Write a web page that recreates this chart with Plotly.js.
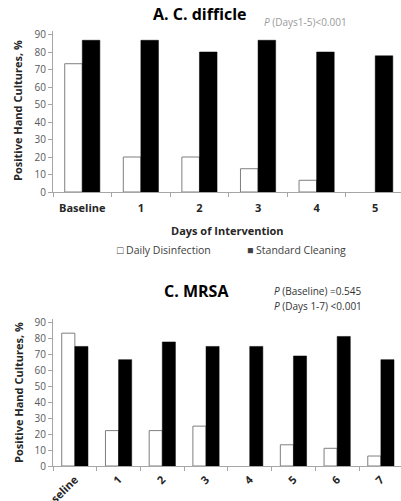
<!DOCTYPE html>
<html><head><meta charset="utf-8">
<script src="https://cdn.plot.ly/plotly-3.0.1.min.js"></script>
<style>body{margin:0;padding:0;background:#fff}#c{width:401px;height:501px}</style>
</head><body><div id="c"></div>
<script>
// Panel A: C. difficile
const catsA = ["Baseline","1","2","3","4","5"];
const dailyA = [73.3, 20, 20, 13.3, 6.7, 0];
const standardA = [86.7, 86.7, 80, 86.7, 80, 77.8];
// Panel C: MRSA
const catsC = ["Baseline","1","2","3","4","5","6","7"];
const dailyC = [83.3, 22.2, 22.2, 25, 0, 13.3, 11.1, 6.25];
const standardC = [75, 66.7, 77.8, 75, 75, 69, 81.25, 66.7];
const yTicks = [0,10,20,30,40,50,60,70,80,90];
const seriesNames = ["Daily Disinfection", "Standard Cleaning"];

const F = "Open Sans, Liberation Sans, sans-serif";
const whiteBar = vals => ({color:"#ffffff", line:{color:"#7f7f7f", width:vals.map(v => v > 0 ? 1 : 0)}});
const blackBar = {color:"#000000", line:{color:"#000000", width:0.5}};

const traces = [
  {type:"bar", name:seriesNames[0], x:catsA, y:dailyA, marker:whiteBar(dailyA), xaxis:"x", yaxis:"y"},
  {type:"bar", name:seriesNames[1], x:catsA, y:standardA, marker:blackBar, xaxis:"x", yaxis:"y"},
  {type:"bar", name:seriesNames[0], x:catsC, y:dailyC, marker:whiteBar(dailyC), xaxis:"x2", yaxis:"y2"},
  {type:"bar", name:seriesNames[1], x:catsC, y:standardC, marker:blackBar, xaxis:"x2", yaxis:"y2"}
];

const yAx = (dom, anchor) => ({
  domain:dom, anchor:anchor, range:[0,92], tickvals:yTicks, showgrid:false, zeroline:false,
  showline:true, linecolor:"#a6a6a6", linewidth:1, ticks:"outside", ticklen:4, tickcolor:"#a6a6a6",
  tickfont:{family:F, size:10, color:"#595959"}, fixedrange:true
});
const xAx = (dom, anchor, n, cats, angle, standoff) => ({
  domain:dom, anchor:anchor, type:"category", range:[-0.5, n], showgrid:false, zeroline:false,
  showline:true, linecolor:"#a6a6a6", linewidth:1, ticks:"outside", ticklen:4, tickcolor:"#a6a6a6",
  tickson:"boundaries", tickvals:cats, ticktext:cats.map(c=>"<b>"+c+"</b>"), tickangle:angle,
  ticklabelstandoff:standoff,
  tickfont:{family:F, size:11, color:"#262626"}, automargin:false
});

const ann = (text, x, y, size, color, extra) => Object.assign({
  text:text, x:x/401, y:(501-y)/501, xref:"paper", yref:"paper", showarrow:false,
  xanchor:"center", yanchor:"middle", font:{family:F, size:size, color:color}
}, extra || {});

const layout = {
  width:401, height:501, margin:{l:0,r:0,t:0,b:0}, paper_bgcolor:"#fff", plot_bgcolor:"#fff",
  barmode:"group", bargap:0.4, bargroupgap:0, showlegend:false,
  font:{family:F},
  xaxis: xAx([53/401, 1], "y", 5.44, catsA, 0, 6),
  yaxis: yAx([(501-192)/501, (501-31)/501], "x"),
  xaxis2: xAx([53/401, 1], "y2", 7.46, catsC, -45, 2),
  yaxis2: yAx([(501-466)/501, (501-319.3)/501], "x2"),
  annotations:[
    ann("<b>A. C. difficle</b>", 200, 14, 16, "#000"),
    ann("<i>P</i> (Days1-5)<0.001", 262, 22, 10, "#9a9a9a", {xanchor:"left"}),
    ann("<b>Days of Intervention</b>", 227, 230, 11, "#262626"),
    ann("□ " + seriesNames[0], 115, 250, 10.5, "#404040", {xanchor:"left"}),
    ann("■ " + seriesNames[1], 245, 250, 10.5, "#404040", {xanchor:"left"}),
    ann("<b>Positive Hand Cultures, %</b>", 18, 111, 11, "#262626", {textangle:-90}),
    ann("<b>C. MRSA</b>", 196, 291, 16, "#000"),
    ann("<i>P</i> (Baseline) =0.545", 272, 291, 10, "#333", {xanchor:"left"}),
    ann("<i>P</i> (Days 1-7) <0.001", 272, 306, 10, "#333", {xanchor:"left"}),
    ann("<b>Positive Hand Cultures, %</b>", 18, 393, 11, "#262626", {textangle:-90})
  ]
};
Plotly.newPlot("c", traces, layout, {displayModeBar:false, staticPlot:true});
</script></body></html>
